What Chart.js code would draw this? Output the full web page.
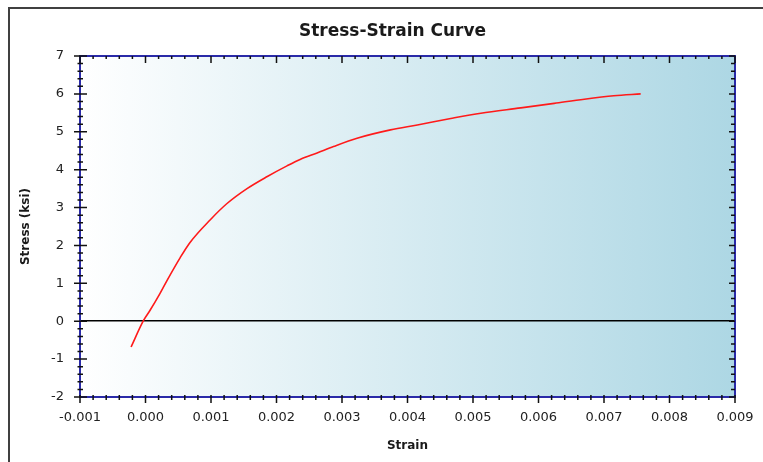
<!DOCTYPE html>
<html>
<head>
<meta charset="utf-8">
<script src="https://cdn.jsdelivr.net/npm/chart.js@4/dist/chart.umd.min.js"></script>
<style>
  html, body { margin: 0; padding: 0; background: #ffffff; }
  #wrap { width: 763px; height: 462px; position: relative; }
</style>
</head>
<body>
<div id="wrap"><canvas id="c" width="763" height="462"></canvas></div>
<script>
const chartTitle = "Stress-Strain Curve";
const xAxisTitle = "Strain";
const yAxisTitle = "Stress (ksi)";

const strain = [-0.00022, -0.00003, 0.00007, 0.00022, 0.00033, 0.00053, 0.00068, 0.00099,
  0.00124, 0.00155, 0.00186, 0.00216, 0.00236, 0.00262, 0.00287, 0.00323, 0.00374,
  0.00415, 0.00466, 0.00512, 0.00573, 0.00624, 0.00670, 0.00715, 0.00756];
const stress = [-0.68, 0.02, 0.29, 0.73, 1.08, 1.68, 2.08, 2.68,
  3.10, 3.50, 3.82, 4.10, 4.27, 4.44, 4.61, 4.83, 5.05,
  5.18, 5.35, 5.49, 5.63, 5.75, 5.86, 5.95, 6.00];

const xMin = -0.001, xMax = 0.009, xStep = 0.001;
const yMin = -2, yMax = 7, yStep = 1;

const points = strain.map((s, i) => ({ x: s, y: stress[i] }));

const decorPlugin = {
  id: 'decor',
  beforeDraw(chart) {
    const { ctx, chartArea: a } = chart;
    ctx.save();
    ctx.strokeStyle = '#404040';
    ctx.lineWidth = 2;
    ctx.strokeRect(9, 8, 800, 500);
    const g = ctx.createLinearGradient(a.left, 0, a.right, 0);
    g.addColorStop(0, '#ffffff');
    g.addColorStop(1, '#add7e4');
    ctx.fillStyle = g;
    ctx.fillRect(a.left, a.top, a.right - a.left, a.bottom - a.top);
    ctx.fillStyle = '#1a1a1a';
    ctx.font = 'bold 17px "DejaVu Sans", sans-serif';
    ctx.textAlign = 'center';
    ctx.textBaseline = 'middle';
    ctx.fillText(chartTitle, 392.5, 32);
    ctx.restore();
  },
  afterDraw(chart) {
    const { ctx, chartArea: a } = chart;
    const xs = chart.scales.x, ys = chart.scales.y;
    ctx.save();
    ctx.strokeStyle = '#2a2aa8';
    ctx.lineWidth = 2;
    ctx.strokeRect(a.left, a.top, a.right - a.left, a.bottom - a.top);
    ctx.strokeStyle = '#111111';
    ctx.lineWidth = 1.5;
    ctx.beginPath();
    const xt = xs.ticks.map(t => t.value);
    for (let i = 0; i < xt.length; i++) {
      const px = xs.getPixelForValue(xt[i]);
      ctx.moveTo(px, a.bottom - 2); ctx.lineTo(px, a.bottom + 6);
      ctx.moveTo(px, a.top); ctx.lineTo(px, a.top + 7);
      if (i < xt.length - 1) {
        for (let k = 1; k < 5; k++) {
          const v = xt[i] + (xt[i + 1] - xt[i]) * k / 5;
          const pm = xs.getPixelForValue(v);
          ctx.moveTo(pm, a.bottom - 2); ctx.lineTo(pm, a.bottom + 3);
          ctx.moveTo(pm, a.top); ctx.lineTo(pm, a.top + 3);
        }
      }
    }
    const yt = ys.ticks.map(t => t.value);
    for (let i = 0; i < yt.length; i++) {
      const py = ys.getPixelForValue(yt[i]);
      ctx.moveTo(a.left - 6, py); ctx.lineTo(a.left + 7, py);
      ctx.moveTo(a.right, py); ctx.lineTo(a.right - 6, py);
      if (i < yt.length - 1) {
        for (let k = 1; k < 5; k++) {
          const v = yt[i] + (yt[i + 1] - yt[i]) * k / 5;
          const pm = ys.getPixelForValue(v);
          ctx.moveTo(a.left - 2.5, pm); ctx.lineTo(a.left + 3, pm);
          ctx.moveTo(a.right, pm); ctx.lineTo(a.right - 4, pm);
        }
      }
    }
    ctx.stroke();
    ctx.restore();
  }
};

new Chart(document.getElementById('c'), {
  type: 'scatter',
  data: {
    datasets: [{
      data: points,
      showLine: true,
      borderColor: '#ff1a1a',
      borderWidth: 1.6,
      pointRadius: 0,
      fill: false,
      cubicInterpolationMode: 'monotone'
    }]
  },
  options: {
    responsive: false,
    animation: false,
    events: [],
    layout: { padding: { left: 0, top: 56, right: 28, bottom: 0 } },
    plugins: { legend: { display: false }, tooltip: { enabled: false }, title: { display: false } },
    scales: {
      x: {
        type: 'linear',
        min: xMin, max: xMax,
        afterFit: s => { s.height = 65; s.paddingLeft = 0; s.paddingRight = 0; },
        afterBuildTicks: s => {
          const t = [];
          for (let i = 0; i <= Math.round((xMax - xMin) / xStep); i++) t.push({ value: +(xMin + i * xStep).toFixed(6) });
          s.ticks = t;
        },
        ticks: {
          color: '#222222',
          font: { family: '"DejaVu Sans", sans-serif', size: 13 },
          padding: 13,
          maxRotation: 0,
          autoSkip: false,
          callback: v => v.toFixed(3)
        },
        grid: { display: false, drawTicks: false },
        border: { display: false },
        title: {
          display: true, text: xAxisTitle, color: '#1a1a1a',
          font: { family: '"DejaVu Sans", sans-serif', size: 12, weight: 'bold' },
          padding: { top: 0, bottom: 9 }
        }
      },
      y: {
        type: 'linear',
        min: yMin, max: yMax,
        afterFit: s => { s.width = 80; s.paddingTop = 0; s.paddingBottom = 0; },
        ticks: {
          stepSize: yStep,
          color: '#222222',
          font: { family: '"DejaVu Sans", sans-serif', size: 13 },
          padding: 16
        },
        grid: {
          drawTicks: false,
          color: c => (c.tick && c.tick.value === 0) ? '#000000' : 'rgba(0,0,0,0)',
          lineWidth: 1.5
        },
        border: { display: false },
        title: {
          display: true, text: yAxisTitle, color: '#1a1a1a',
          font: { family: '"DejaVu Sans", sans-serif', size: 12, weight: 'bold' },
          padding: { top: 19, bottom: 0 }
        }
      }
    }
  },
  plugins: [decorPlugin]
});
</script>
</body>
</html>
